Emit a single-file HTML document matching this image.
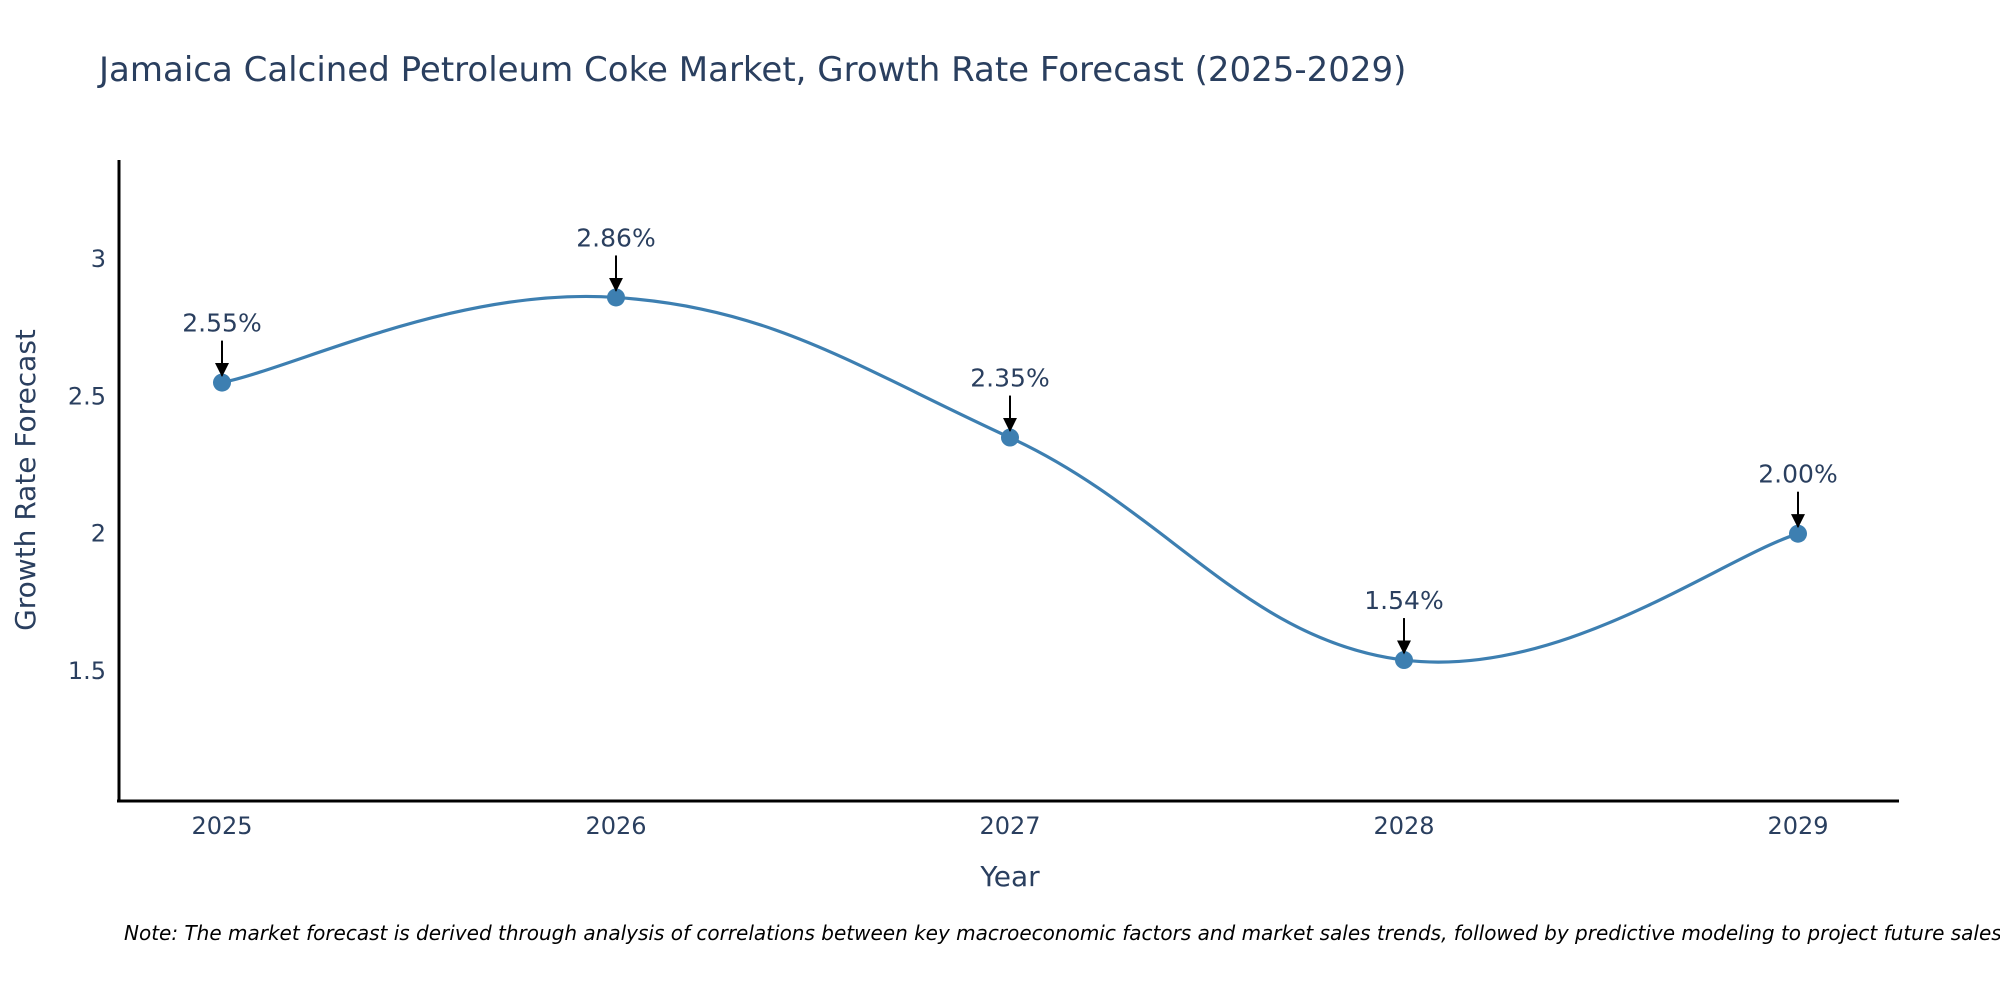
<!DOCTYPE html>
<html><head><meta charset="utf-8"><style>
body{margin:0;background:#fff;}
svg text{font-family:"DejaVu Sans","Liberation Sans",sans-serif;}
</style></head><body>
<svg width="2000" height="1000" viewBox="0 0 2000 1000" xmlns="http://www.w3.org/2000/svg">
<defs><marker id="ah" viewBox="0 0 10 10" refX="9" refY="5" markerWidth="7" markerHeight="7" orient="auto"><path d="M0,0 L10,5 L0,10 z" fill="#000"/></marker></defs>
<text x="99" y="81" font-size="34" fill="#2a3f5f">Jamaica Calcined Petroleum Coke Market, Growth Rate Forecast (2025-2029)</text>
<g id="plot"></g>
<line x1="119" y1="160" x2="119" y2="802" stroke="#000" stroke-width="3"/>
<line x1="117" y1="801" x2="1899" y2="801" stroke="#000" stroke-width="3"/>
<text x="1010" y="886" font-size="28" fill="#2a3f5f" text-anchor="middle">Year</text>
<text transform="translate(35,480) rotate(-90)" font-size="28" fill="#2a3f5f" text-anchor="middle">Growth Rate Forecast</text>
<text x="124" y="940" font-size="20" font-style="italic" fill="#000">Note: The market forecast is derived through analysis of correlations between key macroeconomic factors and market sales trends, followed by predictive modeling to project future sales.</text>
</svg>
<script>
const years=["2025","2026","2027","2028","2029"];
const values=[2.55,2.86,2.35,1.54,2.00];
const yTicks=[1.5,2,2.5,3];
const labels=["2.55%","2.86%","2.35%","1.54%","2.00%"];
const NS="http://www.w3.org/2000/svg";
const g=document.getElementById('plot');
const X0=222,DX=394;
function xs(i){return X0+i*DX;}
function ys(v){return 259+(3-v)*274.7;}
function mk(t,a){const e=document.createElementNS(NS,t);for(const k in a)e.setAttribute(k,a[k]);g.appendChild(e);return e;}
yTicks.forEach(v=>{const t=mk('text',{x:106,y:ys(v)+8,'font-size':24,fill:'#2a3f5f','text-anchor':'end'});t.textContent=String(v);

});
years.forEach((y,i)=>{const t=mk('text',{x:xs(i),y:834,'font-size':24,fill:'#2a3f5f','text-anchor':'middle'});t.textContent=y;

});
const P=values.map((v,i)=>[xs(i),ys(v)]);
let d='M'+P[0][0]+','+P[0][1];
const k=0.2;
for(let i=0;i<P.length-1;i++){const p0=P[Math.max(0,i-1)],p1=P[i],p2=P[i+1],p3=P[Math.min(P.length-1,i+2)];
const c1=[p1[0]+(p2[0]-p0[0])*k,p1[1]+(p2[1]-p0[1])*k],c2=[p2[0]-(p3[0]-p1[0])*k,p2[1]-(p3[1]-p1[1])*k];
d+=' C'+c1+' '+c2+' '+p2;}
const line=mk('path',{d:d,fill:'none',stroke:'#3d7fb1','stroke-width':3.2});


P.forEach((p,i)=>{const c=mk('circle',{cx:p[0],cy:p[1],r:9,fill:'#3d7fb1'});


const a=mk('line',{x1:p[0],y1:p[1]-42,x2:p[0],y2:p[1]-7,stroke:'#000','stroke-width':2,'marker-end':'url(#ah)'});


const t=mk('text',{x:p[0],y:p[1]-51,'font-size':25,fill:'#2a3f5f','text-anchor':'middle'});t.textContent=labels[i];

});
</script>
</body></html>
